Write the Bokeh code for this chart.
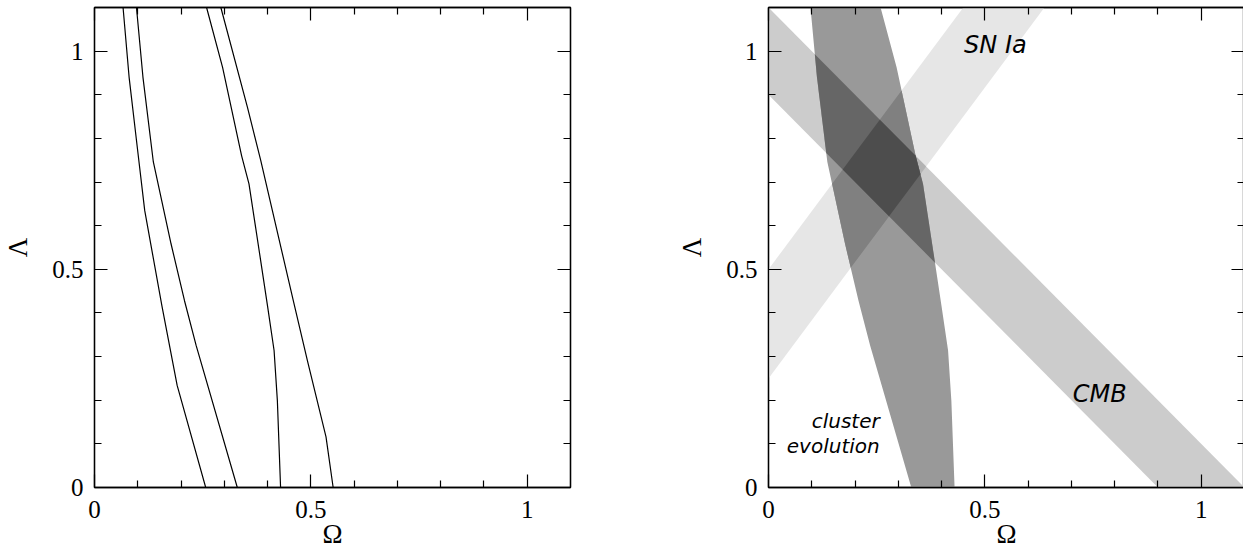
from bokeh.plotting import figure
from bokeh.layouts import row
from bokeh.models import LinearAxis, FixedTicker, Range1d, Label
from bokeh.embed import file_html
from bokeh.resources import INLINE

# ---------------- data ----------------
axis_lo, axis_hi = 0.0, 1.1
major_ticks = [0, 0.5, 1]
major_labels = ["0", "0.5", "1"]
minor_ticks = [0.1, 0.2, 0.3, 0.4, 0.6, 0.7, 0.8, 0.9]
x_title = "\u03a9"
y_title = "\u039b"

# left panel contour curves (Omega, Lambda)
curve1_omega = [0.066, 0.080, 0.100, 0.116, 0.156, 0.191, 0.257]
curve1_lambda = [1.1, 0.94, 0.77, 0.635, 0.415, 0.234, 0.0]
curve2_omega = [0.097, 0.112, 0.136, 0.177, 0.208, 0.235, 0.330]
curve2_lambda = [1.1, 0.94, 0.746, 0.558, 0.428, 0.325, 0.0]
curve3_omega = [0.259, 0.296, 0.340, 0.357, 0.384, 0.400, 0.415, 0.4226, 0.430]
curve3_lambda = [1.1, 0.963, 0.76, 0.696, 0.52, 0.415, 0.314, 0.199, 0.0]
curve4_omega = [0.292, 0.3535, 0.384, 0.459, 0.492, 0.535, 0.5515]
curve4_lambda = [1.1, 0.871, 0.75, 0.43, 0.291, 0.116, 0.0]

# right panel constraints
cmb_sum_low, cmb_sum_high = 0.9, 1.1          # Omega + Lambda
sn_slope = 1.333                               # Lambda - slope*Omega
sn_offset_low, sn_offset_high = 0.25, 0.5

col_sn = "#e6e6e6"
col_cmb = "#cccccc"
col_sn_cmb = "#b3b3b3"
col_cl = "#999999"
col_cl_sn = "#808080"
col_cl_cmb = "#666666"
col_all = "#4d4d4d"

# annotation anchors (Omega, Lambda)
ann_texts = ["SN Ia", "CMB", "cluster", "evolution"]
ann_x = [0.452, 0.703, 0.257, 0.257]
ann_y = [1.015, 0.215, 0.153, 0.096]

# ---------------- geometry helpers ----------------
def clip(poly, a, b, c):
    """keep part of polygon with a*x + b*y + c >= 0"""
    out = []
    n = len(poly)
    for i in range(n):
        P = poly[i]
        Q = poly[(i + 1) % n]
        fp = a * P[0] + b * P[1] + c
        fq = a * Q[0] + b * Q[1] + c
        if fp >= 0:
            out.append(P)
        if (fp >= 0) != (fq >= 0):
            t = fp / (fp - fq)
            out.append((P[0] + t * (Q[0] - P[0]), P[1] + t * (Q[1] - P[1])))
    return out

def clip_all(poly, planes):
    for (a, b, c) in planes:
        if not poly:
            break
        poly = clip(poly, a, b, c)
    return poly

box = [(axis_lo, axis_lo), (axis_hi, axis_lo), (axis_hi, axis_hi), (axis_lo, axis_hi)]
cmb_planes = [(1, 1, -cmb_sum_low), (-1, -1, cmb_sum_high)]
sn_planes = [(-sn_slope, 1, -sn_offset_low), (sn_slope, -1, sn_offset_high)]
box_planes = [(1, 0, -axis_lo), (-1, 0, axis_hi), (0, 1, -axis_lo), (0, -1, axis_hi)]

cluster_poly = list(zip(curve2_omega, curve2_lambda)) + list(zip(curve3_omega[::-1], curve3_lambda[::-1]))
cluster_poly = clip_all(cluster_poly, box_planes)

layers = [
    (clip_all(box, sn_planes), col_sn),
    (clip_all(box, cmb_planes), col_cmb),
    (clip_all(box, sn_planes + cmb_planes), col_sn_cmb),
    (cluster_poly, col_cl),
    (clip_all(cluster_poly, sn_planes), col_cl_sn),
    (clip_all(cluster_poly, cmb_planes), col_cl_cmb),
    (clip_all(cluster_poly, sn_planes + cmb_planes), col_all),
]

# ---------------- figure helpers ----------------
FW, FH = 476, 480
TICK_FONT = "Liberation Serif"

def style_axis(ax, show):
    ax.ticker = FixedTicker(ticks=major_ticks, minor_ticks=minor_ticks)
    ax.major_tick_in = 13
    ax.major_tick_out = 0
    ax.minor_tick_in = 7
    ax.minor_tick_out = 0
    ax.major_tick_line_color = "black"
    ax.minor_tick_line_color = "black"
    ax.major_tick_line_width = 1.2
    ax.minor_tick_line_width = 1.2
    ax.axis_line_color = "black"
    ax.axis_line_width = 1.3
    if show:
        ax.major_label_overrides = dict(zip(major_ticks, major_labels))
        ax.major_label_text_font = TICK_FONT
        ax.major_label_text_font_size = "25px"
        ax.major_label_text_color = "black"
        ax.axis_label_text_font = TICK_FONT
        ax.axis_label_text_font_style = "normal"
        ax.axis_label_text_font_size = "27px"
        ax.axis_label_text_color = "black"
    else:
        ax.major_label_overrides = {t: "" for t in major_ticks}
        ax.major_label_text_font_size = "0px"
        ax.major_label_standoff = 0

def make_fig(min_left, min_right):
    p = figure(frame_width=FW, frame_height=FH,
               x_range=Range1d(axis_lo, axis_hi), y_range=Range1d(axis_lo, axis_hi),
               output_backend="svg", toolbar_location=None, tools="",
               min_border_left=min_left, min_border_right=min_right,
               min_border_top=7, min_border_bottom=58,
               background_fill_color="white", border_fill_color="white")
    p.outline_line_color = "black"
    p.outline_line_width = 1.3
    p.grid.visible = False
    style_axis(p.xaxis[0], True)
    style_axis(p.yaxis[0], True)
    p.xaxis[0].major_label_standoff = 13
    p.xaxis[0].axis_label = x_title
    p.xaxis[0].axis_label_standoff = -2
    p.yaxis[0].major_label_standoff = 11
    p.yaxis[0].axis_label = y_title
    p.yaxis[0].axis_label_standoff = 16
    top = LinearAxis()
    style_axis(top, False)
    p.add_layout(top, "above")
    right = LinearAxis()
    style_axis(right, False)
    p.add_layout(right, "right")
    return p

# ---------------- left panel ----------------
p1 = make_fig(93, 100)
for xs, ys in [(curve1_omega, curve1_lambda), (curve2_omega, curve2_lambda),
               (curve3_omega, curve3_lambda), (curve4_omega, curve4_lambda)]:
    p1.line(xs, ys, line_color="black", line_width=1.2)

# ---------------- right panel ----------------
p2 = make_fig(98, 0)
for poly, col in layers:
    if poly:
        p2.patch([q[0] for q in poly], [q[1] for q in poly],
                 fill_color=col, line_color=None)

ann_font = "DejaVu Sans"
ann_sizes = ["24px", "24px", "20px", "20px"]
ann_align = ["left", "left", "right", "right"]
for t, x, y, s, a in zip(ann_texts, ann_x, ann_y, ann_sizes, ann_align):
    p2.add_layout(Label(x=x, y=y, text=t, text_font=ann_font,
                        text_font_style="italic", text_font_size=s,
                        text_align=a, text_baseline="alphabetic", text_color="black"))

layout = row(p1, p2)
open("out.html", "w").write(file_html(layout, INLINE))
